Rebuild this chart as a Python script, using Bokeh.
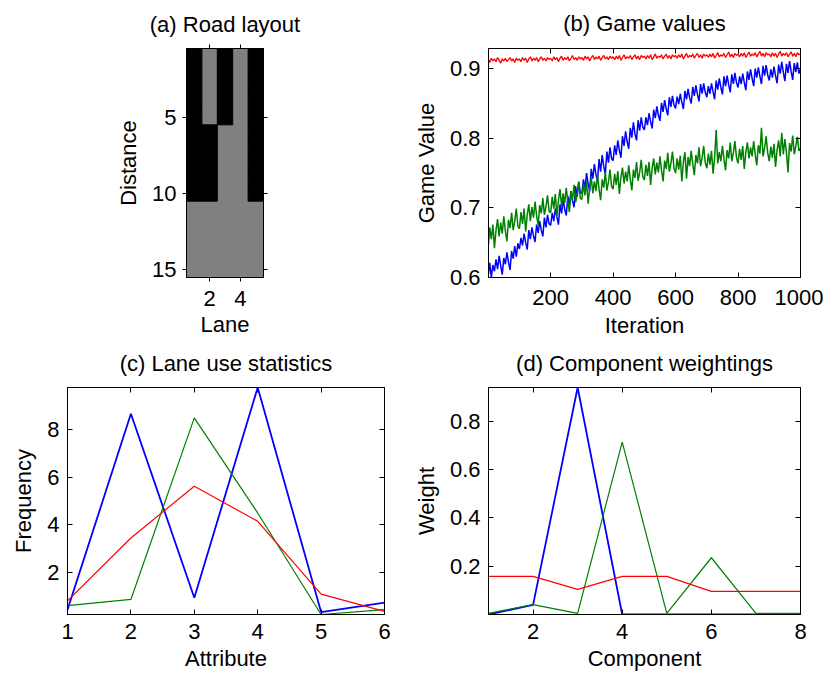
from bokeh.plotting import figure
from bokeh.models import Range1d, FixedTicker, LinearAxis, Title
from bokeh.layouts import column, row
from bokeh.embed import file_html
from bokeh.resources import INLINE

FONT = "Liberation Sans"
FS = "22px"
BLUE, GREEN, RED = "#0000ff", "#008000", "#ff0000"
GREY = "#808080"

# ---------------- (a) Road layout: 1 = black, 0 = grey ----------------
lanes = [1, 2, 3, 4, 5]
distances = list(range(1, 16))
road_layout = [
    [1, 0, 1, 0, 1],
    [1, 0, 1, 0, 1],
    [1, 0, 1, 0, 1],
    [1, 0, 1, 0, 1],
    [1, 0, 1, 0, 1],
    [1, 1, 0, 0, 1],
    [1, 1, 0, 0, 1],
    [1, 1, 0, 0, 1],
    [1, 1, 0, 0, 1],
    [1, 1, 0, 0, 1],
    [0, 0, 0, 0, 0],
    [0, 0, 0, 0, 0],
    [0, 0, 0, 0, 0],
    [0, 0, 0, 0, 0],
    [0, 0, 0, 0, 0],
]
lane_ticks = [2, 4]
distance_ticks = [5, 10, 15]

# ---------------- (b) Game values (read every 5 iterations) ----------------
iterations = [1] + list(range(5, 1001, 5))
game_red = [
    0.913, 0.909, 0.915, 0.911, 0.914, 0.910, 0.916, 0.912, 0.908, 0.914, 0.911, 0.915, 0.910, 0.913, 0.916, 0.911, 0.914, 0.909, 0.915, 0.912,
    0.914, 0.910, 0.916, 0.912, 0.915, 0.909, 0.914, 0.917, 0.911, 0.915, 0.912, 0.916, 0.910, 0.914, 0.917, 0.912, 0.915, 0.911, 0.916, 0.913,
    0.915, 0.911, 0.917, 0.913, 0.916, 0.910, 0.915, 0.918, 0.912, 0.916, 0.913, 0.917, 0.911, 0.915, 0.919, 0.913, 0.916, 0.912, 0.917, 0.914,
    0.916, 0.912, 0.918, 0.914, 0.917, 0.911, 0.916, 0.919, 0.913, 0.917, 0.914, 0.918, 0.912, 0.916, 0.919, 0.914, 0.917, 0.913, 0.918, 0.915,
    0.917, 0.913, 0.918, 0.914, 0.919, 0.912, 0.916, 0.920, 0.914, 0.917, 0.915, 0.919, 0.913, 0.917, 0.920, 0.914, 0.918, 0.913, 0.919, 0.916,
    0.918, 0.914, 0.919, 0.915, 0.920, 0.913, 0.917, 0.921, 0.915, 0.918, 0.916, 0.920, 0.914, 0.918, 0.921, 0.915, 0.919, 0.914, 0.920, 0.917,
    0.919, 0.915, 0.920, 0.916, 0.921, 0.914, 0.918, 0.922, 0.916, 0.919, 0.917, 0.921, 0.915, 0.919, 0.922, 0.916, 0.920, 0.915, 0.921, 0.918,
    0.920, 0.916, 0.921, 0.917, 0.922, 0.915, 0.919, 0.923, 0.917, 0.920, 0.918, 0.922, 0.916, 0.920, 0.924, 0.917, 0.921, 0.916, 0.922, 0.919,
    0.921, 0.917, 0.922, 0.918, 0.923, 0.916, 0.920, 0.924, 0.918, 0.921, 0.919, 0.923, 0.917, 0.921, 0.925, 0.918, 0.922, 0.917, 0.923, 0.920,
    0.921, 0.917, 0.923, 0.918, 0.922, 0.916, 0.921, 0.925, 0.918, 0.922, 0.919, 0.923, 0.917, 0.921, 0.924, 0.918, 0.922, 0.917, 0.923, 0.920,
    0.921,
]
game_blue = [
    0.605, 0.621, 0.600, 0.618, 0.609, 0.626, 0.612, 0.631, 0.617, 0.604, 0.628, 0.619, 0.636, 0.622, 0.611, 0.638, 0.627, 0.645, 0.630, 0.649,
    0.641, 0.657, 0.646, 0.663, 0.650, 0.640, 0.668, 0.655, 0.672, 0.660, 0.651, 0.676, 0.664, 0.681, 0.668, 0.659, 0.686, 0.672, 0.690, 0.677,
    0.675, 0.693, 0.681, 0.699, 0.687, 0.676, 0.705, 0.692, 0.712, 0.698, 0.689, 0.717, 0.703, 0.724, 0.710, 0.701, 0.731, 0.716, 0.737, 0.722,
    0.721, 0.741, 0.728, 0.750, 0.735, 0.724, 0.756, 0.742, 0.763, 0.748, 0.739, 0.770, 0.752, 0.776, 0.760, 0.748, 0.781, 0.765, 0.787, 0.771,
    0.768, 0.790, 0.776, 0.797, 0.783, 0.772, 0.803, 0.789, 0.810, 0.795, 0.785, 0.815, 0.801, 0.823, 0.806, 0.797, 0.826, 0.811, 0.830, 0.816,
    0.812, 0.830, 0.819, 0.836, 0.824, 0.814, 0.841, 0.829, 0.846, 0.833, 0.825, 0.851, 0.838, 0.855, 0.842, 0.833, 0.859, 0.845, 0.861, 0.848,
    0.843, 0.860, 0.849, 0.864, 0.852, 0.842, 0.868, 0.856, 0.871, 0.858, 0.850, 0.874, 0.861, 0.876, 0.863, 0.853, 0.878, 0.864, 0.879, 0.866,
    0.859, 0.875, 0.864, 0.879, 0.867, 0.856, 0.883, 0.870, 0.886, 0.873, 0.863, 0.889, 0.875, 0.890, 0.877, 0.866, 0.892, 0.878, 0.894, 0.880,
    0.873, 0.889, 0.878, 0.893, 0.880, 0.869, 0.896, 0.884, 0.899, 0.886, 0.875, 0.900, 0.887, 0.902, 0.889, 0.878, 0.904, 0.890, 0.905, 0.891,
    0.883, 0.899, 0.887, 0.903, 0.890, 0.879, 0.906, 0.893, 0.910, 0.895, 0.882, 0.907, 0.894, 0.911, 0.896, 0.884, 0.908, 0.895, 0.909, 0.893,
    0.899,
]
game_green = [
    0.648, 0.672, 0.655, 0.676, 0.642, 0.668, 0.684, 0.659, 0.679, 0.663, 0.688, 0.667, 0.652, 0.683, 0.671, 0.693, 0.668, 0.681, 0.699, 0.674,
    0.670, 0.694, 0.677, 0.699, 0.666, 0.690, 0.705, 0.681, 0.701, 0.686, 0.709, 0.689, 0.675, 0.704, 0.692, 0.714, 0.690, 0.702, 0.718, 0.695,
    0.693, 0.716, 0.699, 0.720, 0.688, 0.711, 0.727, 0.703, 0.721, 0.707, 0.729, 0.709, 0.694, 0.724, 0.712, 0.733, 0.708, 0.721, 0.738, 0.714,
    0.712, 0.735, 0.718, 0.739, 0.706, 0.729, 0.744, 0.721, 0.738, 0.724, 0.747, 0.727, 0.711, 0.741, 0.729, 0.752, 0.725, 0.737, 0.755, 0.731,
    0.727, 0.749, 0.733, 0.753, 0.720, 0.744, 0.758, 0.735, 0.752, 0.738, 0.761, 0.741, 0.725, 0.755, 0.743, 0.766, 0.739, 0.751, 0.769, 0.745,
    0.740, 0.762, 0.746, 0.766, 0.733, 0.757, 0.771, 0.748, 0.765, 0.751, 0.774, 0.754, 0.738, 0.768, 0.756, 0.779, 0.752, 0.764, 0.781, 0.757,
    0.750, 0.771, 0.755, 0.775, 0.738, 0.766, 0.780, 0.742, 0.773, 0.760, 0.782, 0.763, 0.747, 0.776, 0.764, 0.787, 0.760, 0.772, 0.789, 0.765,
    0.757, 0.778, 0.762, 0.782, 0.749, 0.773, 0.812, 0.764, 0.780, 0.767, 0.789, 0.770, 0.754, 0.783, 0.771, 0.794, 0.767, 0.779, 0.796, 0.772,
    0.764, 0.785, 0.769, 0.789, 0.756, 0.780, 0.794, 0.771, 0.787, 0.774, 0.796, 0.777, 0.761, 0.790, 0.778, 0.815, 0.774, 0.786, 0.803, 0.779,
    0.767, 0.788, 0.772, 0.792, 0.759, 0.783, 0.797, 0.774, 0.808, 0.777, 0.799, 0.780, 0.751, 0.793, 0.781, 0.804, 0.777, 0.789, 0.802, 0.782,
    0.786,
]
iter_ticks = [200, 400, 600, 800, 1000]
value_ticks = [0.6, 0.7, 0.8, 0.9]

# ---------------- (c) Lane use statistics ----------------
attributes = [1, 2, 3, 4, 5, 6]
freq_blue = [0.45, 8.65, 0.95, 9.75, 0.35, 0.75]
freq_green = [0.62, 0.88, 8.48, 4.50, 0.25, 0.45]
freq_red = [0.82, 3.45, 5.62, 4.15, 1.10, 0.38]
attr_ticks = [1, 2, 3, 4, 5, 6]
freq_ticks = [2, 4, 6, 8]

# ---------------- (d) Component weightings ----------------
components = [1, 2, 3, 4, 5, 6, 7, 8]
w_blue = [0.0, 0.04, 0.94, 0.0, 0.0, 0.0, 0.0, 0.0]
w_green = [0.005, 0.041, 0.005, 0.714, 0.005, 0.235, 0.005, 0.005]
w_red = [0.158, 0.158, 0.104, 0.158, 0.158, 0.096, 0.096, 0.096]
comp_ticks = [2, 4, 6, 8]
weight_ticks = [0.2, 0.4, 0.6, 0.8]


def make_fig(width, height, left, right, top, bottom, xr, yr, bg="white"):
    p = figure(width=width, height=height, x_range=xr, y_range=yr,
               output_backend="svg", toolbar_location=None,
               min_border_left=left, min_border_right=right,
               min_border_top=top, min_border_bottom=bottom)
    p.xgrid.grid_line_color = None
    p.ygrid.grid_line_color = None
    p.outline_line_color = "black"
    p.outline_line_alpha = 1
    p.outline_line_width = 1
    p.background_fill_color = bg
    p.border_fill_color = "white"
    return p


def style(p, xticks, yticks, xlabel, ylabel, title, tin, tout,
          xstand, ystand, xlstand, ylstand, tstand):
    p.xaxis.ticker = FixedTicker(ticks=xticks)
    p.yaxis.ticker = FixedTicker(ticks=yticks)
    p.xaxis.axis_label = xlabel
    p.yaxis.axis_label = ylabel
    p.xaxis.major_label_standoff = xstand
    p.yaxis.major_label_standoff = ystand
    p.xaxis.axis_label_standoff = xlstand
    p.yaxis.axis_label_standoff = ylstand
    for ax in list(p.xaxis) + list(p.yaxis):
        ax.major_tick_in = tin
        ax.major_tick_out = tout
        ax.minor_tick_line_color = None
        ax.major_tick_line_color = "black"
        ax.axis_line_color = "black"
        ax.major_label_text_font = FONT
        ax.major_label_text_font_size = FS
        ax.major_label_text_color = "black"
        ax.axis_label_text_font = FONT
        ax.axis_label_text_font_size = FS
        ax.axis_label_text_font_style = "normal"
        ax.axis_label_text_color = "black"
    # mirrored ticks on right and top (box on), no labels
    for side, ticks in (("right", yticks), ("above", xticks)):
        ax = LinearAxis(ticker=FixedTicker(ticks=ticks), major_label_text_font_size="0px",
                        major_label_text_color=None, major_label_standoff=0,
                        major_tick_in=tin, major_tick_out=tout,
                        minor_tick_line_color=None, axis_line_color="black")
        p.add_layout(ax, side)
    p.add_layout(Title(text=title, align="center", vertical_align="top", text_font=FONT,
                       text_font_size=FS, text_font_style="normal", text_color="black",
                       standoff=tstand), "above")


# ---- (a)
pa = make_fig(410, 340, 186, 147, 48, 62, Range1d(0.5, 5.5), Range1d(15.5, 0.5), bg=GREY)
gx, gy, bx, by = [], [], [], []
for i, d in enumerate(distances):
    for j, ln in enumerate(lanes):
        if road_layout[i][j] == 1:
            bx.append(ln)
            by.append(d)
        else:
            gx.append(ln)
            gy.append(d)
pa.rect(x=gx, y=gy, width=1, height=1, fill_color=GREY, line_color=None)
pa.rect(x=bx, y=by, width=1, height=1, fill_color="black", line_color="black", line_width=1)
style(pa, lane_ticks, distance_ticks, "Lane", "Distance", "(a) Road layout",
      0, 4, 9, 6, 3, 8, 12)

# ---- (b)
pb = make_fig(413, 340, 73, 23, 47, 63, Range1d(1, 1000), Range1d(0.6, 0.929))
pb.line(iterations, game_blue, line_color=BLUE, line_width=1.5)
pb.line(iterations, game_green, line_color=GREEN, line_width=1.5)
pb.line(iterations, game_red, line_color=RED, line_width=1.3)
style(pb, iter_ticks, value_ticks, "Iteration", "Game Value", "(b) Game values",
      5, 0, 12, 8, 5, 8, 21)

# ---- (c)
all_c = freq_blue + freq_green + freq_red
pc = make_fig(410, 333, 67, 26, 45, 59, Range1d(1, 6), Range1d(min(all_c), max(all_c)))
pc.line(attributes, freq_blue, line_color=BLUE, line_width=1.8)
pc.line(attributes, freq_green, line_color=GREEN, line_width=1.2)
pc.line(attributes, freq_red, line_color=RED, line_width=1.2)
style(pc, attr_ticks, freq_ticks, "Attribute", "Frequency", "(c) Lane use statistics",
      5, 0, 9, 8, 4, 8, 20)

# ---- (d)
all_d = w_blue + w_green + w_red
pd_ = make_fig(413, 333, 73, 23, 44, 59, Range1d(1, 8), Range1d(min(all_d), max(all_d)))
pd_.line(components, w_blue, line_color=BLUE, line_width=1.8)
pd_.line(components, w_green, line_color=GREEN, line_width=1.2)
pd_.line(components, w_red, line_color=RED, line_width=1.2)
style(pd_, comp_ticks, weight_ticks, "Component", "Weight", "(d) Component weightings",
      5, 0, 9, 8, 4, 8, 19)

layout = column(row(pa, pb, spacing=0), row(pc, pd_, spacing=0), spacing=0)
open("out.html", "w").write(file_html(layout, INLINE))
